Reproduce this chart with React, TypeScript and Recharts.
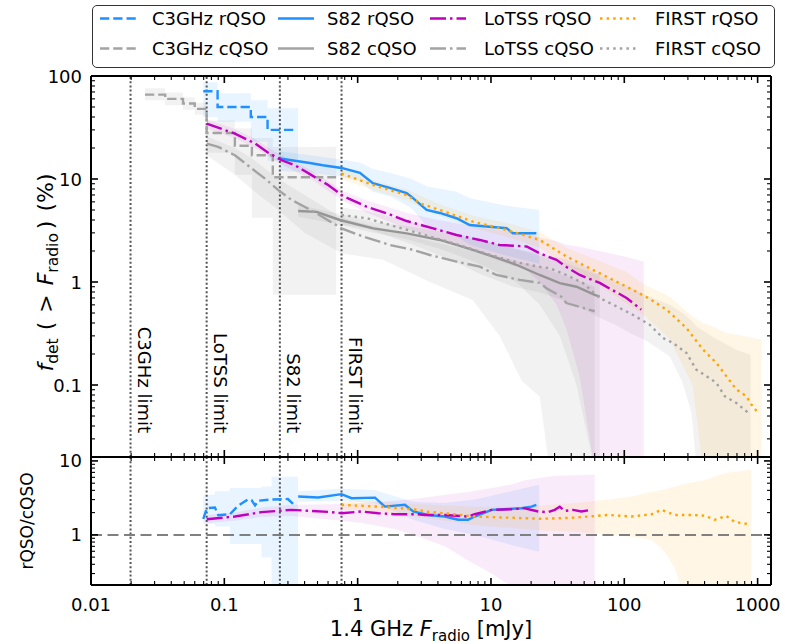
import {
  ComposedChart,
  Line,
  Area,
  XAxis,
  YAxis,
  ReferenceLine,
  Legend,
  Label,
} from 'recharts'

type Pt = [number, number]
type Band = [number, number, number]

// top panel: f_det(>F_radio) in %, [flux mJy, percent]
const c3ghzR: Pt[] = [[0.0695, 71], [0.089, 50], [0.158, 40], [0.211, 30], [0.33, 30]]
const c3ghzRBand: Band[] = [[0.0695, 40, 87], [0.089, 36, 68], [0.158, 23, 58], [0.211, 15, 48.5], [0.357, 15, 48.5]]
const c3ghzC: Pt[] = [[0.0254, 66], [0.036, 60], [0.049, 54], [0.06, 48], [0.0737, 28], [0.12, 21], [0.161, 17], [0.231, 10.4], [0.69, 10.4]]
const c3ghzCBand: Band[] = [[0.0254, 58, 76], [0.036, 52, 69], [0.049, 47, 62], [0.06, 42, 55], [0.0737, 18, 37], [0.12, 11, 31], [0.161, 4.2, 25], [0.231, 0.75, 20.5], [0.69, 0.75, 20.5]]

const s82R: Pt[] = [[0.261, 15.8], [0.438, 14.3], [0.548, 13.6], [0.757, 12.8], [1.04, 11.5], [1.3, 9.1], [1.74, 8.2], [2.33, 7.3], [2.54, 6.7], [3.29, 5.0], [4.13, 4.68], [5.51, 4.16], [6.93, 3.58], [13.1, 3.33], [14.6, 2.97], [21.9, 2.97]]
const s82RBand: Band[] = [[0.261, 12, 18.5], [0.44, 11.5, 17], [0.76, 10.5, 15.5], [1.04, 9.5, 14.5], [1.3, 7.5, 12.5], [1.74, 6.8, 11.5], [2.54, 5.2, 10], [3.29, 3.5, 8.5], [5.5, 2.8, 7.5], [6.93, 2.3, 6.5], [13.1, 1.8, 5.5], [23, 1.5, 5]]
const s82C: Pt[] = [[0.358, 4.89], [0.492, 4.8], [0.736, 4.0], [1.31, 3.32], [2.33, 2.97], [4.13, 2.56], [7.3, 2.05], [10.3, 1.77], [15.5, 1.47], [23.2, 1.17], [32.8, 0.976], [43.8, 0.9], [60, 0.75], [65.4, 0.72]]
const s82CBand: Band[] = [[0.358, 4.3, 5.6], [0.74, 3.6, 4.6], [1.31, 3.0, 3.8], [2.33, 2.6, 3.5], [4.13, 2.1, 3.1], [7.3, 1.6, 2.6], [10.3, 1.3, 2.4], [15.5, 1.0, 2.1], [23.2, 0.6, 1.8], [32.8, 0.3, 1.6], [43.8, 0.1, 1.4], [60, 0.015, 1.2], [65.4, 0.015, 1.2]]

const lotssR: Pt[] = [[0.0737, 34.5], [0.12, 27.6], [0.17, 22.1], [0.212, 18.1], [0.269, 15.2], [0.338, 13.6], [0.451, 10.9], [0.601, 8.73], [0.779, 6.83], [1.17, 5.38], [1.65, 4.65], [2.33, 3.91], [3.68, 3.32], [5.51, 2.86], [8.24, 2.56], [11.6, 2.29], [18.5, 2.21], [23.2, 1.9], [31, 1.64], [36.8, 1.4], [46.3, 1.17], [65.4, 0.98], [104, 0.7], [134, 0.54]]
const lotssRBand: Band[] = [[0.0737, 31, 38], [0.12, 25, 30.5], [0.17, 20, 24.5], [0.27, 13.8, 16.8], [0.45, 9.9, 12.1], [0.78, 6.1, 7.7], [1.17, 4.7, 6.2], [2.33, 3.3, 4.7], [3.68, 2.7, 4.1], [8.24, 1.9, 3.4], [11.6, 1.6, 3.2], [18.5, 1.3, 3.0], [23.2, 1.0, 2.7], [31, 0.6, 2.5], [36.8, 0.35, 2.3], [46.3, 0.12, 2.2], [60, 0.015, 2.05], [104, 0.015, 1.75], [140, 0.015, 1.57]]
const lotssC: Pt[] = [[0.0737, 22.1], [0.09, 20.5], [0.12, 17.0], [0.16, 12.7], [0.202, 10.1], [0.254, 7.8], [0.32, 6.25], [0.4, 5.38], [0.492, 4.65], [0.757, 3.32], [1.1, 2.76], [1.74, 2.29], [2.61, 2.05], [3.48, 1.83], [5.51, 1.58], [8.24, 1.41], [11.0, 1.17], [16.4, 1.05], [23.2, 0.98], [26.1, 0.87], [33.7, 0.72], [36.8, 0.625], [49, 0.56], [60, 0.52]]
const lotssCBand: Band[] = [[0.0737, 17, 26], [0.12, 11, 20], [0.16, 8, 16], [0.254, 5, 10], [0.4, 3, 7], [0.757, 1.9, 4.2], [1.55, 1.64, 3.3], [3.48, 1.0, 2.5], [7.3, 0.67, 2.0], [11.6, 0.3, 1.75], [17, 0.11, 1.55], [23.2, 0.077, 1.4], [27.6, 0.015, 1.3], [60, 0.015, 0.9]]

const firstR: Pt[] = [[0.757, 11.3], [1.31, 8.73], [2.33, 6.98], [2.93, 5.81], [4.13, 5.0], [7.35, 3.85], [13.1, 3.2], [23.2, 2.56], [36.8, 1.77], [58.2, 1.31], [104, 0.9], [151, 0.7], [207, 0.54], [292, 0.358], [389, 0.221], [490, 0.164], [582, 0.122], [692, 0.0906], [822, 0.078], [897, 0.0648], [1004, 0.0538]]
const firstRBand: Band[] = [[0.757, 10, 12.8], [1.31, 7.8, 9.8], [2.33, 6.2, 7.9], [4.13, 4.4, 5.7], [7.35, 3.35, 4.4], [13.1, 2.75, 3.75], [23.2, 2.15, 3.05], [36.8, 1.45, 2.15], [58.2, 1.03, 1.7], [104, 0.62, 1.25], [142, 0.47, 0.94], [219, 0.28, 0.72], [326, 0.1, 0.46], [389, 0.015, 0.4], [460, 0.015, 0.37], [586, 0.015, 0.32], [828, 0.015, 0.295], [1070, 0.015, 0.275]]
const firstC: Pt[] = [[0.757, 4.47], [1.17, 4.16], [2.61, 3.08], [5.2, 2.38], [8.24, 1.97], [14.7, 1.58], [22.6, 1.41], [27.6, 1.36], [36.8, 1.17], [49, 0.976], [65.4, 0.7], [87.3, 0.58], [116, 0.48], [155, 0.385], [195, 0.286], [232, 0.256], [292, 0.205], [347, 0.141], [413, 0.122], [490, 0.105], [566, 0.078], [692, 0.067], [846, 0.054]]
const firstCBand: Band[] = [[0.757, 3.6, 5.3], [1.17, 3.3, 4.9], [2.61, 2.3, 3.8], [5.2, 1.6, 3.0], [8.24, 1.2, 2.6], [14.7, 0.9, 2.1], [22.6, 0.8, 1.9], [36.8, 0.65, 1.65], [49, 0.55, 1.45], [65.4, 0.45, 1.15], [87, 0.38, 1.0], [116, 0.31, 0.85], [142, 0.275, 0.75], [219, 0.19, 0.6], [274, 0.105, 0.5], [320, 0.053, 0.42], [349, 0.015, 0.37], [490, 0.015, 0.28], [692, 0.015, 0.22], [887, 0.015, 0.197]]

// bottom panel: rQSO/cQSO ratio
const c3ghzRatio: Pt[] = [[0.0695, 1.65], [0.074, 2.3], [0.085, 2.35], [0.09, 1.85], [0.11, 1.9], [0.126, 2.45], [0.15, 3.0], [0.16, 2.95], [0.17, 2.5], [0.18, 2.9], [0.22, 3.0], [0.3, 3.05], [0.33, 2.6]]
const c3ghzRatioBand: Band[] = [[0.0695, 1.4, 3.5], [0.085, 1.3, 3.9], [0.11, 0.75, 4.3], [0.19, 0.5, 4.5], [0.226, 0.1, 6.1], [0.357, 0.1, 6.1]]
const s82Ratio: Pt[] = [[0.358, 3.3], [0.506, 3.2], [0.757, 3.55], [0.9, 3.13], [1.35, 3.19], [1.6, 2.41], [2.26, 2.55], [2.61, 2.07], [3.38, 1.86], [4.5, 1.77], [5.67, 1.6], [6.73, 1.6], [7.56, 1.77], [10.1, 2.18], [13.4, 2.24], [16.9, 2.29], [20.1, 2.41], [21.9, 2.55]]
const s82RatioBand: Band[] = [[0.358, 2.8, 3.9], [0.757, 2.9, 4.2], [1.35, 2.7, 4.0], [2.61, 1.6, 2.8], [4.5, 1.2, 2.7], [7.56, 1.0, 3.0], [13.4, 0.75, 3.8], [21.9, 0.6, 4.7], [23, 0.6, 4.7]]
const lotssRatio: Pt[] = [[0.0737, 1.63], [0.12, 1.77], [0.19, 2.03], [0.32, 2.18], [0.451, 2.11], [0.637, 2.03], [0.757, 1.96], [1.07, 2.07], [1.43, 1.96], [1.9, 1.9], [2.84, 1.9], [3.19, 1.86], [4.5, 1.86], [6.73, 1.77], [7.56, 1.9], [10.1, 2.18], [14.3, 2.22], [17.9, 2.29], [22.6, 2.07], [26.8, 2.03], [30.1, 2.18], [32.8, 2.41], [35.7, 2.11], [41.3, 2.18], [47.7, 2.07], [56.6, 2.18]]
const lotssRatioBand: Band[] = [[0.0737, 1.45, 1.85], [0.12, 1.55, 2.0], [0.19, 1.75, 2.35], [0.32, 1.8, 2.55], [0.637, 1.6, 2.6], [1.07, 1.45, 2.7], [1.9, 1.2, 2.9], [2.84, 0.95, 3.1], [4.5, 0.7, 3.5], [6.73, 0.45, 3.8], [10.1, 0.3, 4.3], [14.3, 0.2, 4.8], [17.9, 0.2, 5.5], [30, 0.2, 6.3], [60, 0.2, 6.5]]
const firstRatio: Pt[] = [[0.757, 2.55], [1.43, 2.41], [2.13, 2.29], [2.84, 2.18], [3.19, 2.07], [4.5, 1.96], [7.56, 1.77], [13.4, 1.71], [23.9, 1.65], [42.5, 1.71], [75.5, 1.86], [113, 1.77], [160, 1.9], [190, 2.18], [239, 1.86], [318, 1.86], [401, 1.82], [476, 1.6], [582, 1.8], [673, 1.5], [846, 1.4]]
const firstRatioBand: Band[] = [[0.757, 2.2, 2.9], [1.43, 2.05, 2.8], [2.84, 1.75, 2.6], [4.5, 1.55, 2.5], [7.56, 1.35, 2.4], [13.4, 1.25, 2.4], [23.9, 1.15, 2.5], [42.5, 1.1, 2.7], [75.5, 1.0, 3.0], [113, 0.95, 3.3], [160, 0.85, 3.8], [200, 0.6, 4.1], [240, 0.35, 4.5], [300, 0.1, 5.0], [400, 0.1, 5.5], [582, 0.1, 6.9], [897, 0.1, 7.6]]

const limits = [
  { x: 0.0198, label: 'C3GHz limit' },
  { x: 0.0737, label: 'LoTSS limit' },
  { x: 0.261, label: 'S82 limit' },
  { x: 0.757, label: 'FIRST limit' },
]

const X_DOMAIN: [number, number] = [0.01, 1260]
const TOP_Y_DOMAIN: [number, number] = [0.02, 100]
const BOT_Y_DOMAIN: [number, number] = [0.21, 11.3]
const X_MAJOR = [0.01, 0.1, 1, 10, 100, 1000]
const TOP_Y_MAJOR = [0.1, 1, 10, 100]
const BOT_Y_MAJOR = [1, 10]

const BLUE = '#1e90ff'
const MAGENTA = '#bf00bf'
const ORANGE = '#ffa500'
const GRAY = '#a3a3a3'
const DASHED = '9.25 4'
const DASHDOT = '16 4 2.5 4'
const DOTTED = '2.5 4.1'
const FONT = "'DejaVu Sans', sans-serif"

const pts = (a: Pt[]) => a.map(([x, y]) => ({ x, y }))
const band = (a: Band[]) => a.map(([x, lo, hi]) => ({ x, band: [lo, hi] }))

function withMinors(majors: number[], [lo, hi]: [number, number]) {
  const out: number[] = []
  for (const d of [majors[0] / 10, ...majors]) {
    for (let k = 1; k < 10; k++) {
      const v = Number((d * k).toPrecision(6))
      if (v >= lo * 0.999 && v <= hi * 1.001) out.push(v)
    }
  }
  return out
}

const X_TICKS = withMinors(X_MAJOR, X_DOMAIN)
const TOP_Y_TICKS = withMinors(TOP_Y_MAJOR, TOP_Y_DOMAIN)
const BOT_Y_TICKS = withMinors(BOT_Y_MAJOR, BOT_Y_DOMAIN)

const isMajor = (v: number) => Math.abs(Math.log10(v) - Math.round(Math.log10(v))) < 1e-6

function LogTick(props: any) {
  const { x, y, payload, side, labels } = props
  const v = payload.value
  const major = isMajor(v)
  const len = major ? 7 : 4
  let x2 = x
  let y2 = y
  if (side === 'bottom') y2 = y - len
  if (side === 'top') y2 = y + len
  if (side === 'left') x2 = x + len
  if (side === 'right') x2 = x - len
  return (
    <g>
      <line x1={x} y1={y} x2={x2} y2={y2} stroke="#000" strokeWidth={major ? 1.6 : 1.1} />
      {labels && major && side === 'bottom' && (
        <text x={x} y={y + 26} textAnchor="middle" fontSize={18} fill="#000">{String(v)}</text>
      )}
      {labels && major && side === 'left' && (
        <text x={x - 9} y={y + 6.5} textAnchor="end" fontSize={18} fill="#000">{String(v)}</text>
      )}
    </g>
  )
}

const tick = (side: string, labels = false) => (p: any) => <LogTick {...p} side={side} labels={labels} />

const axisLine = { stroke: '#000', strokeWidth: 2 }

const legendItems = [
  { name: 'C3GHz rQSO', color: BLUE, dash: DASHED },
  { name: 'S82 rQSO', color: BLUE, dash: undefined },
  { name: 'LoTSS rQSO', color: MAGENTA, dash: DASHDOT },
  { name: 'FIRST rQSO', color: ORANGE, dash: DOTTED },
  { name: 'C3GHz cQSO', color: GRAY, dash: DASHED },
  { name: 'S82 cQSO', color: GRAY, dash: undefined },
  { name: 'LoTSS cQSO', color: GRAY, dash: DASHDOT },
  { name: 'FIRST cQSO', color: GRAY, dash: DOTTED },
]
const LEGEND_COLS = [{ hx: 7, tx: 59 }, { hx: 185, tx: 234 }, { hx: 337, tx: 391 }, { hx: 507, tx: 562 }]

function LegendBox() {
  return (
    <div
      style={{
        width: 683,
        height: 63,
        boxSizing: 'border-box',
        border: '1.5px solid #333',
        borderRadius: 5,
        background: '#fff',
      }}
    >
      <svg width={680} height={60} style={{ display: 'block' }}>
        {legendItems.map((it, i) => {
          const col = LEGEND_COLS[i % 4]
          const cy = i < 4 ? 12.5 : 42.5
          return (
            <g key={it.name}>
              <line x1={col.hx} x2={col.hx + 36} y1={cy} y2={cy} stroke={it.color} strokeWidth={2.5} strokeDasharray={it.dash} />
              <text x={col.tx} y={cy + 6.5} fontSize={18} fill="#000" fontFamily={FONT}>{it.name}</text>
            </g>
          )
        })}
      </svg>
    </div>
  )
}

const limitLabel = (text: string) => (p: any) => {
  const vb = p.viewBox
  const x = vb.x + 7
  const y = vb.y + vb.height - 24
  return (
    <text transform={`rotate(90 ${x} ${y})`} x={x} y={y} textAnchor="end" fontSize={18} fill="#000">
      {text}
    </text>
  )
}

function TopYTitle(p: any) {
  const vb = p.viewBox
  const x = 53
  const y = vb.y + vb.height / 2 + 6
  return (
    <text transform={`rotate(-90 ${x} ${y})`} x={x} y={y} textAnchor="middle" fontSize={22} fill="#000">
      <tspan fontStyle="italic">f</tspan>
      <tspan fontSize={15.5} dy={5}>det</tspan>
      <tspan dy={-5} dx={8}>(</tspan>
      <tspan dx={9}>&gt;</tspan>
      <tspan dx={9} fontStyle="italic">F</tspan>
      <tspan fontSize={15.5} dy={5}>radio</tspan>
      <tspan dy={-5} dx={4}>)</tspan>
      <tspan dx={9}>(%)</tspan>
    </text>
  )
}

function BotYTitle(p: any) {
  const vb = p.viewBox
  const x = 33
  const y = vb.y + vb.height / 2
  return (
    <text transform={`rotate(-90 ${x} ${y})`} x={x} y={y} textAnchor="middle" fontSize={17} fill="#000">
      rQSO/cQSO
    </text>
  )
}

function XTitle(p: any) {
  const vb = p.viewBox
  return (
    <text x={vb.x + vb.width / 2} y={vb.y + 51} textAnchor="middle" fontSize={21} fill="#000">
      <tspan>1.4 GHz </tspan>
      <tspan fontStyle="italic">F</tspan>
      <tspan fontSize={15} dy={5}>radio</tspan>
      <tspan dy={-5}> [mJy]</tspan>
    </text>
  )
}

function bandArea(key: string, data: Band[], color: string, opacity: number, step = false) {
  return (
    <Area
      key={key}
      data={band(data)}
      dataKey="band"
      type={step ? 'stepAfter' : 'linear'}
      stroke="none"
      fill={color}
      fillOpacity={opacity}
      isAnimationActive={false}
      legendType="none"
      activeDot={false}
    />
  )
}

function seriesLine(key: string, data: Pt[], color: string, dash?: string, step = false) {
  return (
    <Line
      key={key}
      data={pts(data)}
      dataKey="y"
      type={step ? 'stepAfter' : 'linear'}
      stroke={color}
      strokeWidth={2.4}
      strokeDasharray={dash}
      dot={false}
      activeDot={false}
      isAnimationActive={false}
      legendType="none"
    />
  )
}

export default function App() {
  const xCommon = {
    type: 'number' as const,
    dataKey: 'x',
    scale: 'log' as const,
    domain: X_DOMAIN,
    allowDataOverflow: true,
    ticks: X_TICKS,
    interval: 0 as const,
    tickSize: 0,
    tickMargin: 0,
    tickLine: false,
    axisLine,
  }
  const yTop = {
    type: 'number' as const,
    scale: 'log' as const,
    domain: TOP_Y_DOMAIN,
    allowDataOverflow: true,
    ticks: TOP_Y_TICKS,
    interval: 0 as const,
    tickSize: 0,
    tickMargin: 0,
    tickLine: false,
    axisLine,
  }
  const yBot = { ...yTop, domain: BOT_Y_DOMAIN, ticks: BOT_Y_TICKS }

  return (
    <div style={{ position: 'absolute', left: 0, top: 0, width: 785, height: 644, background: '#fff', fontFamily: FONT }}>
      <div style={{ position: 'absolute', left: 0, top: 0 }}>
        <ComposedChart width={785} height={470} margin={{ top: 75, right: 13, bottom: 0, left: 0 }}>
          <XAxis {...xCommon} height={13} tick={tick('bottom')} />
          <XAxis {...xCommon} xAxisId="t" orientation="top" height={1} tick={tick('top')} />
          <YAxis {...yTop} width={91} tick={tick('left', true)}>
            <Label content={TopYTitle} />
          </YAxis>
          <YAxis {...yTop} yAxisId="r" orientation="right" width={1} tick={tick('right')} />
          <Legend
            layout="horizontal"
            verticalAlign="middle"
            align="center"
            content={() => <LegendBox />}
            wrapperStyle={{ left: 92, top: 5, width: 683, height: 63 }}
          />
          {bandArea('b1', c3ghzCBand, '#808080', 0.1, true)}
          {bandArea('b2', lotssCBand, '#808080', 0.1)}
          {bandArea('b3', s82CBand, '#808080', 0.1)}
          {bandArea('b4', firstCBand, '#808080', 0.1)}
          {bandArea('b5', c3ghzRBand, BLUE, 0.1, true)}
          {bandArea('b6', s82RBand, BLUE, 0.1)}
          {bandArea('b7', lotssRBand, MAGENTA, 0.08)}
          {bandArea('b8', firstRBand, ORANGE, 0.1)}
          {limits.map((l) => (
            <ReferenceLine key={l.label} x={l.x} stroke="#555" strokeWidth={2} strokeDasharray="2 2.2" label={limitLabel(l.label)} />
          ))}
          {seriesLine('l1', c3ghzC, GRAY, DASHED, true)}
          {seriesLine('l2', s82C, '#959595')}
          {seriesLine('l3', lotssC, GRAY, DASHDOT)}
          {seriesLine('l4', firstC, GRAY, DOTTED)}
          {seriesLine('l5', c3ghzR, BLUE, DASHED, true)}
          {seriesLine('l6', s82R, BLUE)}
          {seriesLine('l7', lotssR, MAGENTA, DASHDOT)}
          {seriesLine('l8', firstR, ORANGE, DOTTED)}
        </ComposedChart>
      </div>
      <div style={{ position: 'absolute', left: 0, top: 440 }}>
        <ComposedChart width={785} height={204} margin={{ top: 16, right: 13, bottom: 0, left: 0 }}>
          <XAxis {...xCommon} height={59} tick={tick('bottom', true)}>
            <Label content={XTitle} />
          </XAxis>
          <XAxis {...xCommon} xAxisId="t" orientation="top" height={1} tick={tick('top')} />
          <YAxis {...yBot} width={91} tick={tick('left', true)}>
            <Label content={BotYTitle} />
          </YAxis>
          <YAxis {...yBot} yAxisId="r" orientation="right" width={1} tick={tick('right')} />
          {bandArea('r1', c3ghzRatioBand, BLUE, 0.1, true)}
          {bandArea('r2', s82RatioBand, BLUE, 0.1)}
          {bandArea('r3', lotssRatioBand, MAGENTA, 0.08)}
          {bandArea('r4', firstRatioBand, ORANGE, 0.1)}
          {limits.map((l) => (
            <ReferenceLine key={l.label} x={l.x} stroke="#555" strokeWidth={2} strokeDasharray="2 2.2" />
          ))}
          <ReferenceLine y={1} stroke="#808080" strokeWidth={2} strokeDasharray="11 5.5" />
          {seriesLine('q1', c3ghzRatio, BLUE, DASHED)}
          {seriesLine('q2', s82Ratio, BLUE)}
          {seriesLine('q3', lotssRatio, MAGENTA, DASHDOT)}
          {seriesLine('q4', firstRatio, ORANGE, DOTTED)}
        </ComposedChart>
      </div>
    </div>
  )
}
